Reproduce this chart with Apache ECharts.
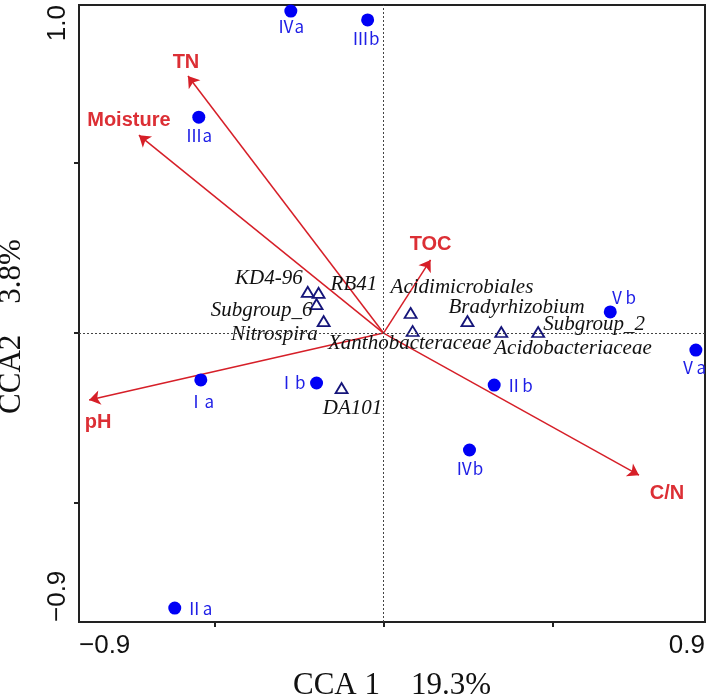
<!DOCTYPE html>
<html>
<head>
<meta charset="utf-8">
<script src="https://cdn.jsdelivr.net/npm/echarts@6/dist/echarts.min.js"></script>
<style>
html, body { margin: 0; padding: 0; background: #fff; }
#main { width: 709px; height: 698px; }
</style>
</head>
<body>
<div id="main"></div>
<script>
// axis ranges and tick marks
const xMin = -0.9, xMax = 0.95;
const yMin = -0.85, yMax = 0.965;
const xTicks = [-0.5, 0, 0.5];
const yTicks = [-0.5, 0, 0.5];
const xEndLabels = ['\u22120.9', '0.9'];
const yEndLabels = ['\u22120.9', '1.0'];

// sampling sites
const sites = ['Ⅰa', 'Ⅰb', 'Ⅱa', 'Ⅱb', 'Ⅲa', 'Ⅲb', 'Ⅳa', 'Ⅳb', 'Ⅴa', 'Ⅴb'];
const siteX = [-0.540, -0.198, -0.617, 0.327, -0.546, -0.047, -0.274, 0.254, 0.923, 0.670];
const siteY = [-0.138, -0.147, -0.809, -0.153, 0.635, 0.921, 0.947, -0.344, -0.050, 0.062];

// bacterial taxa
const taxa = ['KD4-96', 'RB41', 'Subgroup_6', 'Nitrospira', 'DA101', 'Acidimicrobiales',
    'Xanthobacteraceae', 'Bradyrhizobium', 'Acidobacteriaceae', 'Subgroup_2'];
const taxaX = [-0.224, -0.192, -0.198, -0.177, -0.124, 0.080, 0.086, 0.248, 0.348, 0.457];
const taxaY = [0.121, 0.118, 0.085, 0.035, -0.162, 0.059, 0.006, 0.035, 0.003, 0.003];

// environmental variables (arrow tips)
const envVars = ['TN', 'Moisture', 'TOC', 'pH', 'C/N'];
const envX = [-0.578, -0.723, 0.139, -0.870, 0.755];
const envY = [0.756, 0.582, 0.215, -0.197, -0.418];

// label placement: [align, dx, dy]
const siteLabelPos = [['center', 0, 22], ['right', -11, 0], ['left', 11, 0], ['left', 11, 0],
    ['center', 0, 18], ['center', -2, 19], ['center', 0, 15], ['center', 0, 19],
    ['center', -3, 18], ['center', 12, -14]];
const taxaLabelPos = [['right', -5, -13], ['left', 12, -8], ['right', -4, 6], ['right', -6, 13],
    ['center', 11, 20], ['left', -20, -26], ['center', -3, 12], ['left', -19, -14],
    ['left', -7, 16], ['left', 5, -8]];
const envLabelPos = [[-2, -14], [-10, -15], [0, -15], [9, 22], [28, 18]];

const chart = echarts.init(document.getElementById('main'));

const axisColor = '#222';

const option = {
    animation: false,
    grid: {
        left: 79, right: 4, top: 5, bottom: 76,
        show: true, borderColor: axisColor, borderWidth: 2,
        outerBoundsMode: 'none'
    },
    xAxis: {
        type: 'value', min: xMin, max: xMax,
        splitLine: { show: false },
        axisLine: { show: true, onZero: false, lineStyle: { color: axisColor, width: 2 } },
        axisTick: { show: true, customValues: xTicks, length: 5, lineStyle: { color: axisColor, width: 2 } },
        axisLabel: {
            customValues: [xMin, xMax],
            formatter: (v) => v < 0 ? xEndLabels[0] : xEndLabels[1],
            alignMinLabel: 'left', alignMaxLabel: 'right',
            fontSize: 26, color: '#111', fontFamily: 'Arial', margin: 11
        },
        name: 'CCA 1\u300019.3%',
        nameLocation: 'middle', nameGap: 48,
        nameTextStyle: { fontSize: 31, color: '#111', fontFamily: '"Liberation Serif", "Noto Sans CJK SC"' }
    },
    yAxis: {
        type: 'value', min: yMin, max: yMax,
        splitLine: { show: false },
        axisLine: { show: true, onZero: false, lineStyle: { color: axisColor, width: 2 } },
        axisTick: { show: true, customValues: yTicks, length: 5, lineStyle: { color: axisColor, width: 2 } },
        axisLabel: {
            customValues: [yMin, yMax],
            formatter: (v) => v < 0 ? yEndLabels[0] : yEndLabels[1],
            rotate: 90,
            alignMinLabel: 'left', alignMaxLabel: 'right',
            fontSize: 26, color: '#111', fontFamily: 'Arial', margin: 8
        },
        name: 'CCA2\u30003.8%',
        nameLocation: 'middle', nameGap: 52, nameRotate: 90,
        nameTextStyle: {
            fontSize: 31, color: '#111', fontFamily: '"Liberation Serif", "Noto Sans CJK SC"',
            padding: [0, 26, 0, 0]
        }
    },
    series: [
        {
            type: 'lines',
            coordinateSystem: 'cartesian2d',
            symbol: ['none', 'arrow'],
            symbolSize: 11,
            silent: true,
            lineStyle: { color: '#d61f28', width: 1.5, opacity: 1 },
            data: envVars.map((n, i) => ({ name: n, coords: [[0, 0], [envX[i], envY[i]]] })),
            markLine: {
                silent: true,
                symbol: 'none',
                label: { show: false },
                lineStyle: { type: [2, 2], color: '#444', width: 1, opacity: 1 },
                data: [{ xAxis: 0 }, { yAxis: 0 }]
            },
            z: 2
        },
        {
            type: 'scatter',
            symbolSize: 0,
            itemStyle: { opacity: 1 },
            data: envVars.map((n, i) => ({
                name: n, value: [envX[i], envY[i]],
                label: { offset: envLabelPos[i] }
            })),
            label: {
                show: true, position: 'inside', formatter: '{b}',
                align: 'center', verticalAlign: 'middle',
                fontSize: 20, fontWeight: 'bold', color: '#dc2f35', fontFamily: 'Arial'
            },
            z: 3
        },
        {
            type: 'scatter',
            symbol: 'triangle',
            symbolSize: [12, 10],
            itemStyle: { color: 'rgba(255,255,255,0)', borderColor: '#15157a', borderWidth: 1.8, opacity: 1 },
            data: taxa.map((n, i) => ({
                name: n, value: [taxaX[i], taxaY[i]],
                label: { align: taxaLabelPos[i][0], offset: [taxaLabelPos[i][1], taxaLabelPos[i][2]] }
            })),
            label: {
                show: true, position: 'inside', formatter: '{b}', verticalAlign: 'middle',
                fontSize: 21, fontStyle: 'italic', color: '#111', fontFamily: '"Liberation Serif"'
            },
            z: 4
        },
        {
            type: 'scatter',
            symbol: 'circle',
            symbolSize: 13,
            itemStyle: { color: '#0000f5', opacity: 1 },
            data: sites.map((n, i) => ({
                name: n, value: [siteX[i], siteY[i]],
                label: { align: siteLabelPos[i][0], offset: [siteLabelPos[i][1], siteLabelPos[i][2]] }
            })),
            label: {
                show: true, position: 'inside', formatter: '{b}', verticalAlign: 'middle',
                fontSize: 17, color: '#1f1fe6', fontFamily: '"Noto Sans CJK SC"'
            },
            z: 5
        }
    ]
};

chart.setOption(option);
</script>
</body>
</html>
